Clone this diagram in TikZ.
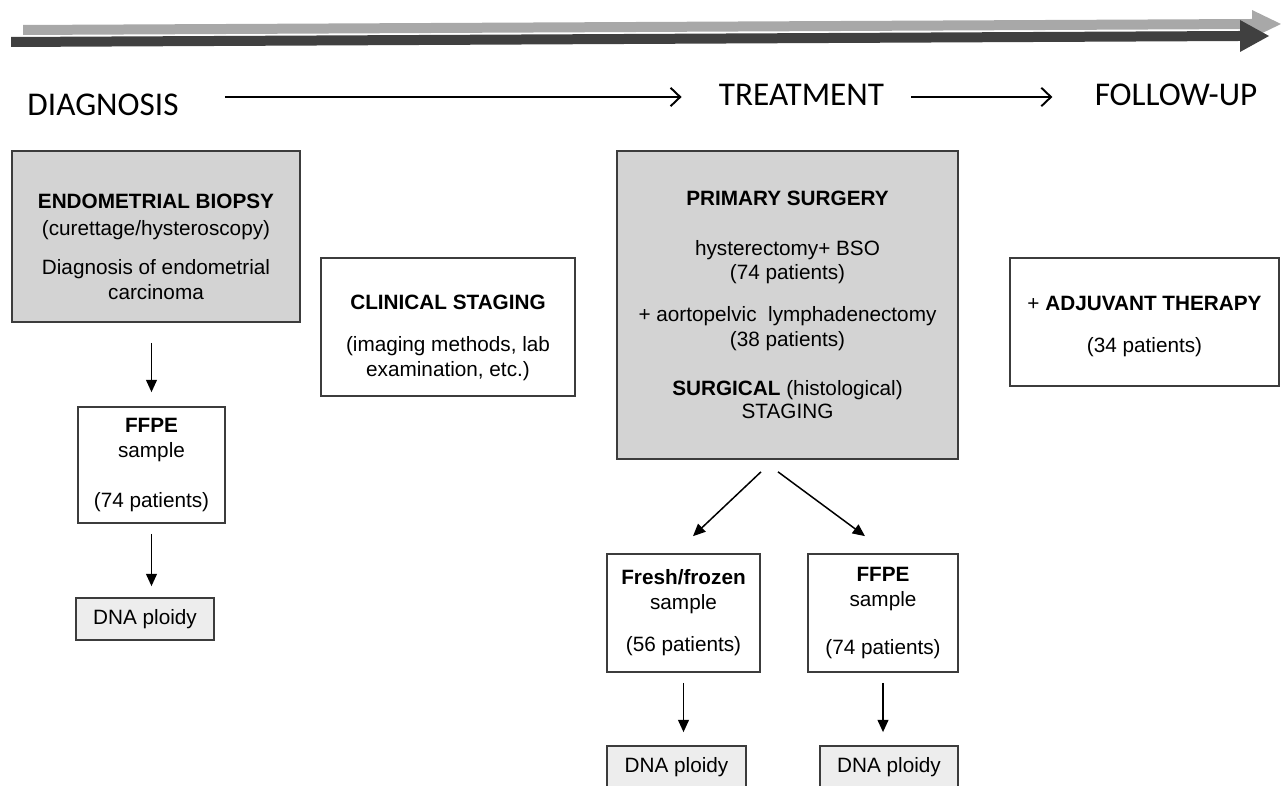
\documentclass[tikz,border=0pt]{standalone}
\usepackage{fontspec}
\setmainfont{Liberation Sans}
\newfontfamily\headfont{Carlito}
\usetikzlibrary{calc,arrows.meta}
\definecolor{boxgrey}{HTML}{D3D3D3}
\definecolor{ploidygrey}{HTML}{EDEDED}
\definecolor{edgegrey}{HTML}{3C3C3C}
\definecolor{bandlight}{HTML}{A8A8A8}
\definecolor{banddark}{HTML}{404040}
\tikzset{
  stagebox/.style={draw=edgegrey, line width=1pt, fill=white, inner sep=0pt, align=center, font=\fontsize{11.8}{14.2}\selectfont},
  greybox/.style={stagebox, fill=boxgrey},
  ploidybox/.style={stagebox, fill=ploidygrey, minimum height=0.84cm},
  phase/.style={inner sep=0pt, font=\headfont\fontsize{18.9}{22}\selectfont},
  flow/.style={draw=black, line width=0.85pt, -{Triangle[length=7pt,width=6.2pt]}},
  phaseflow/.style={draw=black, line width=1.1pt, -{Straight Barb[length=5.5pt,width=10.5pt]}},
}
\begin{document}
\begin{tikzpicture}[x=0.02cm, y=-0.02cm]
			%%%%% START %%%%%
			\useasboundingbox (0, 0) rectangle (1281, 786);
			
			\fill[bandlight] (23, 25) -- (1252, 19) -- (1252, 10) -- (1281, 24) -- (1252, 38) -- (1252, 29) -- (23, 35) -- cycle;
			\fill[banddark] (11, 37) -- (1240, 31) -- (1240, 20) -- (1269, 36) -- (1240, 52) -- (1240, 41) -- (11, 47) -- cycle;
			
			\node[phase] (diagnosis) at (103, 105) {DIAGNOSIS};
			\node[phase] (treatment) at (801.5, 95) {TREATMENT};
			\node[phase] (followup) at (1176, 95) {FOLLOW-UP};
			\draw[phaseflow] ($(diagnosis.east |- treatment.west)+(46, 2)$) -- ($(treatment.west)+(-37, 2)$);
			\draw[phaseflow] ($(treatment.east)+(27, 2)$) -- ($(followup.west)+(-42, 2)$);
			
			\node[greybox, minimum width=5.76cm, minimum height=3.42cm] (biopsy) at (156, 236.5) {\rule{0pt}{19.9pt}\textbf{ENDOMETRIAL BIOPSY}\\[1pt] (curettage/hysteroscopy)\\[8pt] Diagnosis of endometrial\\ carcinoma};
			\node[stagebox, minimum width=5.08cm, minimum height=2.76cm] (clinical) at (448, 327) {\rule{0pt}{20.9pt}\textbf{CLINICAL STAGING}\\[10pt] (imaging methods, lab\\ examination, etc.)};
			\node[greybox, minimum width=6.82cm, minimum height=6.16cm] (surgery) at (787.5, 305) {\textbf{PRIMARY SURGERY}\\[14pt] hysterectomy+ BSO\\ (74 patients)\\[9.6pt] + aortopelvic~ lymphadenectomy\\ (38 patients)\\[13.6pt] \textbf{SURGICAL} (histological)\\[-1pt] STAGING};
			\node[stagebox, minimum width=5.38cm, minimum height=2.56cm] (adjuvant) at (1144.5, 322) {\rule{0pt}{13.1pt}+ \textbf{ADJUVANT THERAPY}\\[10pt] (34 patients)};
			
			\node[stagebox, minimum width=2.94cm, minimum height=2.32cm] (ffpe1) at (151.5, 465) {\textbf{FFPE}\\ sample\\[14pt] (74 patients)};
			\node[ploidybox, minimum width=2.76cm] (ploidy1) at (145, 619) {DNA ploidy};
			
			\node[stagebox, minimum width=3.06cm, minimum height=2.36cm] (fresh) at (683.5, 613) {\textbf{Fresh/frozen}\\ sample\\[9.6pt] (56 patients)};
			\node[stagebox, minimum width=3.00cm, minimum height=2.36cm] (ffpe2) at (883, 613) {\textbf{FFPE}\\ sample\\[13pt] (74 patients)};
			\node[ploidybox, minimum width=2.78cm] (ploidy2) at (676.5, 767) {DNA ploidy};
			\node[ploidybox, minimum width=2.76cm] (ploidy3) at (889, 767) {DNA ploidy};
			
			\draw[flow] ($(ffpe1.north |- biopsy.south)+(0, 20)$) -- ($(ffpe1.north)+(0, -14)$);
			\draw[flow] ($(ffpe1.south)+(0, 10)$) -- ($(ffpe1.south |- ploidy1.north)+(0, -11)$);
			\draw[flow] ($(surgery.south)+(-26.5, 12)$) -- ($(fresh.north)+(9.5, -17)$);
			\draw[flow] ($(surgery.south)+(-9.5, 12)$) -- ($(ffpe2.north)+(-18, -17)$);
			\draw[flow] ($(fresh.south)+(0, 10)$) -- ($(fresh.south |- ploidy2.north)+(0, -13)$);
			\draw[flow] ($(ffpe2.south)+(0, 10)$) -- ($(ffpe2.south |- ploidy3.north)+(0, -13)$);
			%%%%% END %%%%%
\end{tikzpicture}
\end{document}
